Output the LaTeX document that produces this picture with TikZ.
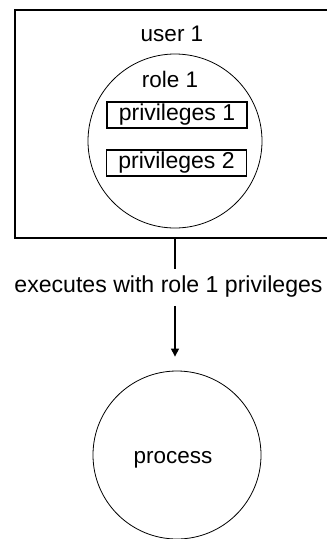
\documentclass[tikz,border=0pt]{standalone}
\usepackage{fontspec}
\setmainfont{Liberation Sans}
\usetikzlibrary{arrows.meta}
\begin{document}
\begin{tikzpicture}[x=1pt,y=-1pt,
  lbl/.style={font=\fontsize{22.5}{26}\selectfont, inner sep=0pt},
  privbox/.style={draw, line width=1.1pt, minimum width=140pt, minimum height=26pt, inner sep=0pt, font=\fontsize{23}{26}\selectfont},
  ring/.style={draw, circle, line width=0.8pt, inner sep=0pt},
  conn/.style={line width=1.1pt}]
\useasboundingbox (0,0) rectangle (327,539);
\clip (0,0) rectangle (327,539);
\node[draw, line width=1.2pt, minimum width=360pt, minimum height=228pt, inner sep=0pt] (user) at (195,124) {};
\node[lbl] (userlbl) at (172,34) {user 1};
\node[ring, minimum size=174pt] (role) at (175,141) {};
\node[lbl] (rolelbl) at (170,79) {role 1};
\node[privbox] (p1) at (177,115) {privileges 1};
\node[privbox] (p2) at (176.5,163) {privileges 2};
\node[lbl, font=\fontsize{23.1}{26}\selectfont, inner sep=0pt, outer sep=0pt] (exec) at (168.5,287) {executes with role 1 privileges};
\node[ring, minimum size=168pt] (proc) at (177,455) {};
\node[lbl] (proclbl) at (173,460) {process};
\draw[conn] (user.south -| role.south) -- ([yshift=7pt]exec.north -| role.south);
\draw[conn, -{Triangle[length=8pt,width=8pt]}, shorten >=14pt] ([yshift=-8pt]exec.south -| role.south) -- (proc.north -| role.south);
\end{tikzpicture}
\end{document}
